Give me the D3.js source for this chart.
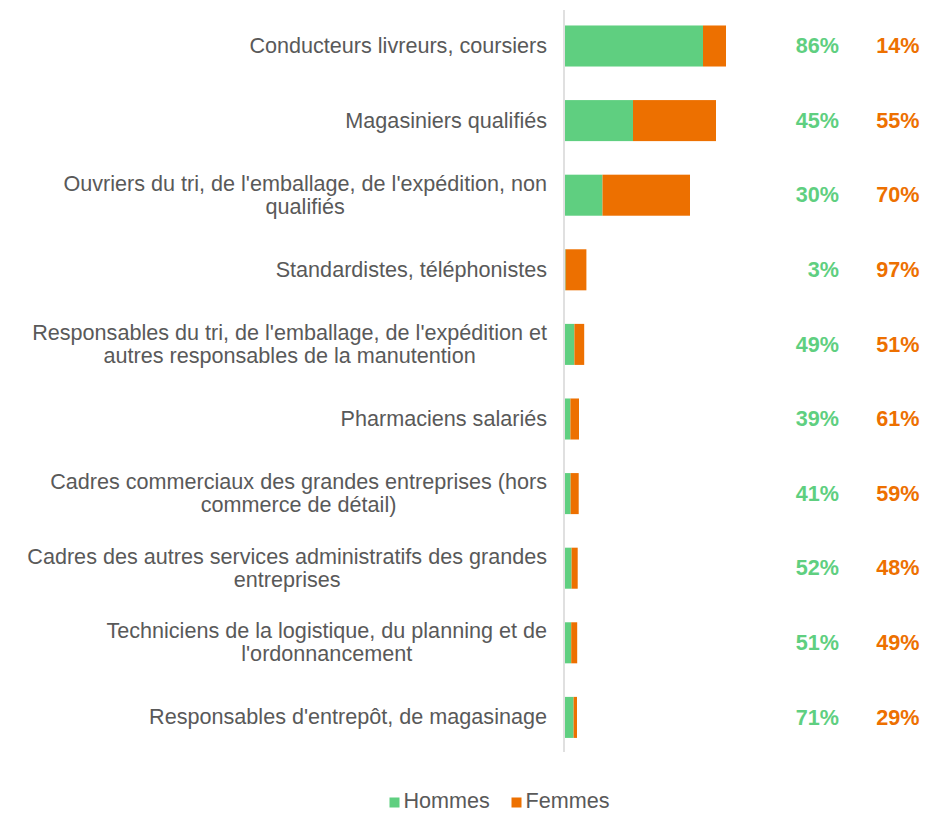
<!DOCTYPE html>
<html>
<head>
<meta charset="utf-8">
<script src="https://cdn.jsdelivr.net/npm/d3@7"></script>
<style>
  body { margin: 0; background: #fff; }
  text { font-family: "Liberation Sans", Arial, sans-serif; }
</style>
</head>
<body>
<svg id="chart" width="932" height="813"></svg>
<script>
// Categories (lines split where the reference wraps them)
const categories = [
  ['Conducteurs livreurs, coursiers'],
  ['Magasiniers qualifiés'],
  ["Ouvriers du tri, de l'emballage, de l'expédition, non", 'qualifiés'],
  ['Standardistes, téléphonistes'],
  ["Responsables du tri, de l'emballage, de l'expédition et", 'autres responsables de la manutention'],
  ['Pharmaciens salariés'],
  ['Cadres commerciaux des grandes entreprises (hors', 'commerce de détail)'],
  ['Cadres des autres services administratifs des grandes', 'entreprises'],
  ['Techniciens de la logistique, du planning et de', "l'ordonnancement"],
  ["Responsables d'entrepôt, de magasinage"]
];

// Bar lengths (estimated, same unit for both series)
const hommes = [138, 68, 37.5, 0.6, 9.4, 5.4, 5.6, 6.6, 6.2, 8.6];
const femmes = [23, 83, 87.5, 20.8, 9.8, 8.6, 8.1, 6.1, 6.0, 3.4];

// Share labels shown on the right
const pctHommes = ['86%', '45%', '30%', '3%', '49%', '39%', '41%', '52%', '51%', '71%'];
const pctFemmes = ['14%', '55%', '70%', '97%', '51%', '61%', '59%', '48%', '49%', '29%'];

const seriesNames = ['Hommes', 'Femmes'];
const colors = ['#5fcf80', '#ed7000'];

const svg = d3.select('#chart');
const idx = d3.range(categories.length);

const x = d3.scaleLinear()
    .domain([0, 100])
    .range([565, 665]);

const y = d3.scaleBand()
    .domain(idx)
    .range([8.7, 754.7])
    .paddingInner(0.45)
    .paddingOuter(0.225);

const rows = idx.map(i => ({ i, Hommes: hommes[i], Femmes: femmes[i] }));
const stack = d3.stack().keys(seriesNames)(rows);

svg.append('g')
  .selectAll('g')
  .data(stack)
  .join('g')
    .attr('fill', (d, k) => colors[k])
  .selectAll('rect')
  .data(d => d)
  .join('rect')
    .attr('x', d => x(d[0]))
    .attr('y', d => y(d.data.i))
    .attr('width', d => x(d[1]) - x(d[0]))
    .attr('height', y.bandwidth());

// vertical axis line
svg.append('line')
    .attr('x1', 564).attr('x2', 564)
    .attr('y1', 10).attr('y2', 752)
    .attr('stroke', '#d9d9d9')
    .attr('stroke-width', 1.6);

// category labels
const labelRight = 547;
const lineH = 23;
const fs = 21.6;
idx.forEach(i => {
  const lines = categories[i];
  const cy = y(i) + y.bandwidth() / 2;
  const g = svg.append('g');
  const texts = lines.map((t, j) => g.append('text')
      .attr('y', cy + (j - (lines.length - 1) / 2) * lineH)
      .attr('dy', '0.32em')
      .attr('font-size', fs)
      .attr('fill', '#595959')
      .text(t));
  if (lines.length === 1) {
    texts[0].attr('x', labelRight).attr('text-anchor', 'end');
  } else {
    const w = d3.max(texts, t => t.node().getComputedTextLength());
    texts.forEach(t => t.attr('x', labelRight - w / 2).attr('text-anchor', 'middle'));
  }
});

// percentage columns
const pctCols = [
  { labels: pctHommes, xr: 839, color: colors[0] },
  { labels: pctFemmes, xr: 919.5, color: colors[1] }
];
pctCols.forEach(c => {
  svg.append('g')
    .selectAll('text')
    .data(c.labels)
    .join('text')
      .attr('x', c.xr)
      .attr('y', (d, i) => y(i) + y.bandwidth() / 2)
      .attr('dy', '0.33em')
      .attr('text-anchor', 'end')
      .attr('font-size', fs)
      .attr('font-weight', 'bold')
      .attr('fill', c.color)
      .text(d => d);
});

// legend
const legend = svg.append('g');
const legendItems = [
  { name: seriesNames[0], color: colors[0], x: 389.5 },
  { name: seriesNames[1], color: colors[1], x: 511.5 }
];
legendItems.forEach(l => {
  legend.append('rect')
      .attr('x', l.x).attr('y', 797.5)
      .attr('width', 10).attr('height', 10)
      .attr('fill', l.color);
  legend.append('text')
      .attr('x', l.x + 14).attr('y', 808)
      .attr('font-size', fs)
      .attr('fill', '#595959')
      .text(l.name);
});
</script>
</body>
</html>
